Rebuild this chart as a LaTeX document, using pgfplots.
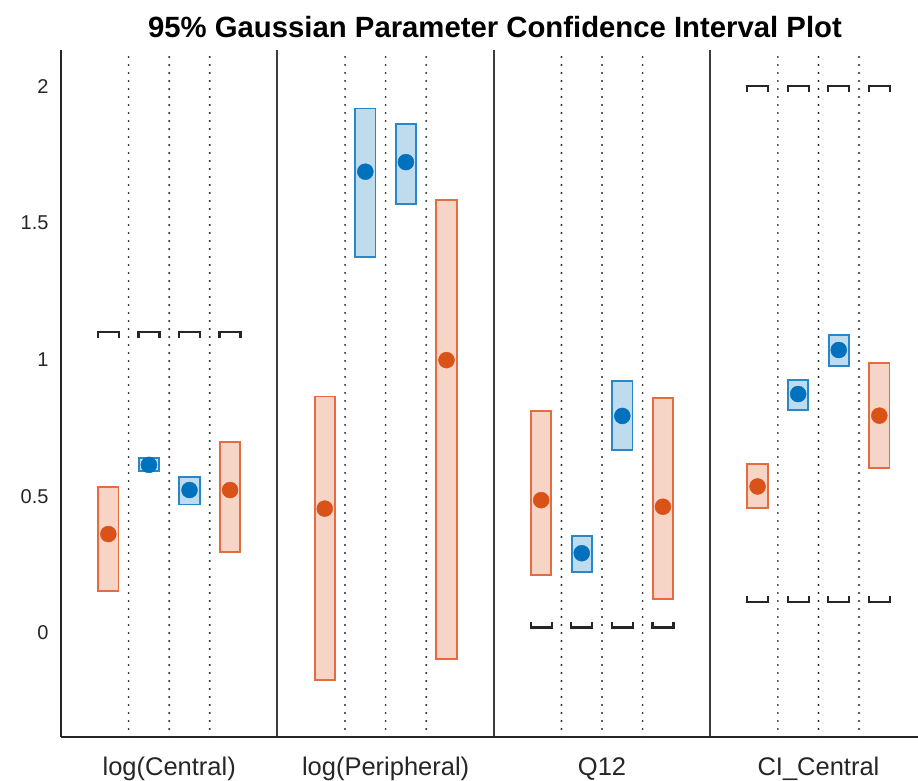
\documentclass[border=0pt]{standalone}
\usepackage{pgfplots}
\pgfplotsset{compat=1.18}
\usepackage{pgfplotstable}
\usepackage{fontspec}
\setmainfont{Liberation Sans}

\definecolor{mlorange}{RGB}{217,83,25}
\definecolor{mlblue}{RGB}{0,114,189}
\definecolor{orangefill}{RGB}{246,212,198}
\definecolor{bluefill}{RGB}{191,220,238}
\definecolor{orangeedge}{RGB}{228,108,62}
\definecolor{blueedge}{RGB}{40,135,200}
\definecolor{axisgray}{RGB}{38,38,38}
\definecolor{sepgray}{RGB}{60,60,60}

% 95% confidence intervals: centre x, lower bound, estimate, upper bound
\pgfplotstableread{
x        lo     mid    hi
0.21875  0.155  0.362  0.535
0.78125  0.295  0.523  0.700
1.21875 -0.172  0.455  0.865
1.78125 -0.094  0.998  1.583
2.21875  0.213  0.486  0.812
2.78125  0.126  0.462  0.858
3.21875  0.457  0.536  0.618
3.78125  0.604  0.795  0.986
}\orangeci

\pgfplotstableread{
x        lo     mid    hi
0.40625  0.592  0.615  0.640
0.59375  0.470  0.523  0.572
1.40625  1.374  1.687  1.918
1.59375  1.569  1.722  1.860
2.40625  0.222  0.292  0.355
2.59375  0.669  0.794  0.921
3.40625  0.815  0.874  0.925
3.59375  0.975  1.035  1.091
}\blueci

% parameter bounds
\pgfplotstableread{
x        y
0.21875  1.10
0.40625  1.10
0.59375  1.10
0.78125  1.10
3.21875  2.00
3.40625  2.00
3.59375  2.00
3.78125  2.00
}\upperbounds

\pgfplotstableread{
x        y
2.21875  0.02
2.40625  0.02
2.59375  0.02
2.78125  0.02
3.21875  0.114
3.40625  0.114
3.59375  0.114
3.78125  0.114
}\lowerbounds

\pgfdeclareplotmark{ubound}{%
  \pgfpathmoveto{\pgfpoint{-10.5bp}{-5.5bp}}%
  \pgfpathlineto{\pgfpoint{-10.5bp}{0bp}}%
  \pgfpathlineto{\pgfpoint{10.5bp}{0bp}}%
  \pgfpathlineto{\pgfpoint{10.5bp}{-5.5bp}}%
  \pgfusepathqstroke}
\pgfdeclareplotmark{lbound}{%
  \pgfpathmoveto{\pgfpoint{-10.5bp}{5.5bp}}%
  \pgfpathlineto{\pgfpoint{-10.5bp}{0bp}}%
  \pgfpathlineto{\pgfpoint{10.5bp}{0bp}}%
  \pgfpathlineto{\pgfpoint{10.5bp}{5.5bp}}%
  \pgfusepathqstroke}

% one filled rectangle per interval row
\newcommand\drawboxes[3]{%
  \pgfplotstablegetrowsof{#1}%
  \pgfmathtruncatemacro\lastrow{\pgfplotsretval-1}%
  \pgfplotsforeachungrouped \r in {0,...,\lastrow}{%
    \pgfplotstablegetelem{\r}{x}\of{#1}\let\cx\pgfplotsretval
    \pgfplotstablegetelem{\r}{lo}\of{#1}\let\clo\pgfplotsretval
    \pgfplotstablegetelem{\r}{hi}\of{#1}\let\chi\pgfplotsretval
    \pgfmathsetmacro\xl{\cx-0.047}%
    \pgfmathsetmacro\xr{\cx+0.047}%
    \edef\doplot{\noexpand\addplot[fill=#2, draw=#3, line width=1.9bp, forget plot]
      coordinates {(\xl,\clo) (\xr,\clo) (\xr,\chi) (\xl,\chi)} -- cycle;}%
    \doplot
  }%
}

\begin{document}
\begin{tikzpicture}
\path[use as bounding box] (0,0) rectangle (918bp,781bp);
\clip (0,0) rectangle (918bp,781bp);
\begin{axis}[
  at={(61bp,44bp)}, anchor=south west,
  scale only axis, width=857bp, height=687bp,
  xmin=0, xmax=3.96, ymin=-0.38, ymax=2.132,
  axis x line=bottom, axis y line=left,
  axis line style={-, draw=axisgray, line width=1.6bp},
  xtick={0.5,1.5,2.5,3.5},
  xticklabels={log(Central),log(Peripheral),Q12,CI\_Central},
  ytick={0,0.5,1,1.5,2},
  yticklabels={0,0.5,1,1.5,2},
  major tick length=0pt, minor tick length=0pt,
  minor xtick={1,2,3},
  xminorgrids,
  minor grid style={solid, draw=sepgray, line width=2bp},
  extra x ticks={0.3125,0.5,0.6875,1.3125,1.5,1.6875,2.3125,2.5,2.6875,3.3125,3.5,3.6875},
  extra x tick labels={},
  extra x tick style={xmajorgrids=true,
    major grid style={draw=black!85, line width=2.1bp, line cap=round,
      dash pattern=on 0bp off 8bp}},
  xticklabel style={font=\fontsize{25.5bp}{30bp}\selectfont, text=axisgray,
    anchor=base, yshift=-38bp},
  yticklabel style={font=\fontsize{20bp}{24bp}\selectfont, text=axisgray, xshift=-9bp},
]
\drawboxes{\orangeci}{orangefill}{orangeedge}
\drawboxes{\blueci}{bluefill}{blueedge}
\addplot[only marks, mark=*, mark size=8bp, color=mlorange] table[x=x, y=mid] {\orangeci};
\addplot[only marks, mark=*, mark size=8bp, color=mlblue] table[x=x, y=mid] {\blueci};
\addplot[only marks, mark=ubound, draw=axisgray, line width=2.3bp] table[x=x, y=y] {\upperbounds};
\addplot[only marks, mark=lbound, draw=axisgray, line width=2.3bp] table[x=x, y=y] {\lowerbounds};
\end{axis}
\node[font=\bfseries\fontsize{29.3bp}{34bp}\selectfont, text=black, anchor=base]
  at (495bp,743bp) {95\% Gaussian Parameter Confidence Interval Plot};
\end{tikzpicture}
\end{document}
